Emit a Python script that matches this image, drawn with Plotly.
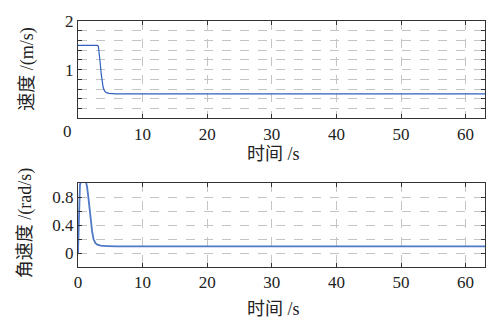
import plotly.graph_objects as go

# Top panel: speed
t_v = [0, 3.0, 3.15, 3.3, 3.45, 3.6, 3.75, 3.9, 4.1, 4.4, 4.8, 5.3, 6.0, 63]
v = [1.5, 1.5, 1.48, 1.35, 1.12, 0.9, 0.74, 0.63, 0.56, 0.525, 0.51, 0.505, 0.5, 0.5]

# Bottom panel: angular velocity
t_w = [0, 0.1, 0.2, 0.3, 0.45, 0.6, 1.2, 1.4, 1.6, 1.8, 2.0, 2.2, 2.4, 2.7, 3.0, 3.5, 4.5, 6, 63]
w = [0, 0.45, 0.8, 0.97, 1.03, 1.05, 1.03, 0.95, 0.8, 0.62, 0.45, 0.3, 0.2, 0.14, 0.12, 0.105, 0.1, 0.095, 0.095]

x_ticks = [0, 10, 20, 30, 40, 50, 60]
y1_ticks = [0, 0.2, 0.4, 0.6, 0.8, 1.0, 1.2, 1.4, 1.6, 1.8, 2.0]
y1_text = ["", "", "", "", "", "1", "", "", "", "", "2"]
y2_ticks = [-0.2, 0, 0.2, 0.4, 0.6, 0.8, 1.0]
y2_text = ["", "0", "", "0.4", "", "0.8", ""]

FONT = "Liberation Serif, Times New Roman, Noto Sans CJK SC, serif"

fig = go.Figure()
fig.add_trace(go.Scatter(x=t_v, y=v, mode="lines", line=dict(color="#2f5fbf", width=1.2),
                         xaxis="x", yaxis="y", showlegend=False))
fig.add_trace(go.Scatter(x=t_w, y=w, mode="lines", line=dict(color="#4f78c6", width=1.8),
                         xaxis="x2", yaxis="y2", showlegend=False))

axis_common = dict(showline=True, linecolor="#333", linewidth=1, mirror="ticks",
                   ticks="inside", ticklen=4, tickcolor="#333", showgrid=True,
                   gridcolor="#c4c4c4", griddash="dash", gridwidth=1, zeroline=False,
                   tickfont=dict(family=FONT, size=17, color="#222"))

fig.update_layout(
    width=504, height=325,
    margin=dict(l=78, r=19, t=14, b=58),
    paper_bgcolor="white", plot_bgcolor="white",
    font=dict(family=FONT, size=17, color="#222"),
    xaxis=dict(domain=[0, 1], anchor="y", range=[0, 63], tickmode="array",
               tickvals=x_ticks, ticktext=["", "10", "20", "30", "40", "50", "60"], **axis_common),
    yaxis=dict(domain=[0.605, 1], anchor="x", range=[0, 2], tickmode="array",
               tickvals=y1_ticks, ticktext=y1_text, **axis_common),
    xaxis2=dict(domain=[0, 1], anchor="y2", range=[0, 63], tickmode="array",
                tickvals=x_ticks, ticktext=[str(x) for x in x_ticks], **axis_common),
    yaxis2=dict(domain=[0, 0.341], anchor="x2", range=[-0.2, 1.0], tickmode="array",
                tickvals=y2_ticks, ticktext=y2_text, **axis_common),
)

ann = dict(xref="paper", yref="paper", showarrow=False)
tfont = dict(family=FONT, size=18, color="#222")
fig.add_annotation(text="0", x=(67 - 78) / 407, y=(267 - 128) / 253, xanchor="center", yanchor="middle",
                   font=dict(family=FONT, size=17, color="#222"), **ann)
fig.add_annotation(text="时间 /s", x=(273 - 78) / 407, y=(267 - 151) / 253, xanchor="center", yanchor="middle",
                   font=tfont, **ann)
fig.add_annotation(text="时间 /s", x=(273 - 78) / 407, y=(267 - 310) / 253, xanchor="center", yanchor="middle",
                   font=tfont, **ann)
fig.add_annotation(text="速度 /(m/s)", x=(28 - 78) / 407, y=(267 - 63) / 253, textangle=-90,
                   xanchor="center", yanchor="middle", font=tfont, **ann)
fig.add_annotation(text="角速度 /(rad/s)", x=(25 - 78) / 407, y=(267 - 222) / 253, textangle=-90,
                   xanchor="center", yanchor="middle", font=tfont, **ann)

fig.write_html("out.html", config={"displayModeBar": False},
               post_script="document.body.style.margin='0';document.body.style.overflow='hidden';")
